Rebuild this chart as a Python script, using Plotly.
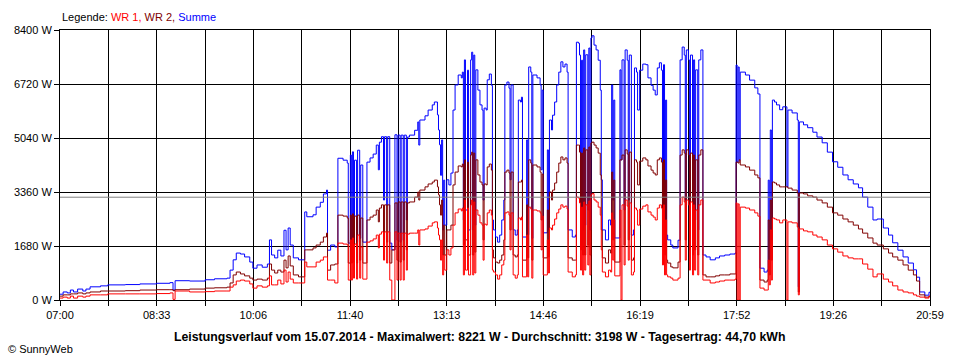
import plotly.graph_objects as go
import pandas as pd

# ---------------- data (15.07.2014) ----------------
zeit = [
    # 07
    "07:00", "07:03", "07:07", "07:10", "07:13", "07:17", "07:22", "07:25", "07:29", "07:39", "07:46",
    # 08
    "08:03", "08:17", "08:33", "08:46", "08:49", "08:51",
    # 09
    "09:05", "09:20", "09:29", "09:41", "09:44", "09:47", "09:50", "09:54", "09:58",
    # 10
    "10:03", "10:06", "10:10", "10:15", "10:20", "10:22", "10:24", "10:27", "10:30", "10:33",
    "10:36", "10:38", "10:40", "10:42", "10:45", "10:50", "10:56", "10:58",
    # 11
    "11:04", "11:07", "11:11", "11:14", "11:17", "11:18", "11:21", "11:25", "11:28", "11:33",
    "11:37", "11:38", "11:40", "11:41", "11:42", "11:43", "11:44", "11:46", "11:47", "11:49",
    "11:50", "11:52", "11:56", "11:59",
    # 12
    "12:02", "12:05", "12:07", "12:08", "12:10", "12:12", "12:13", "12:15", "12:16", "12:18",
    "12:20", "12:23", "12:25", "12:26", "12:28", "12:29", "12:31", "12:32", "12:34", "12:35",
    "12:37", "12:42", "12:45", "12:46", "12:47", "12:52", "12:55", "12:59",
    # 13
    "13:01", "13:04", "13:05", "13:06", "13:07", "13:08", "13:09", "13:10", "13:11", "13:13",
    "13:15", "13:17", "13:19", "13:21", "13:24", "13:27", "13:28", "13:29", "13:30", "13:31",
    "13:33", "13:34", "13:36", "13:37", "13:38", "13:39", "13:40", "13:41", "13:43", "13:45",
    "13:47", "13:48", "13:49", "13:51", "13:52", "13:54", "13:56", "13:57", "13:58",
    # 14
    "14:00", "14:02", "14:04", "14:06", "14:08", "14:09", "14:11", "14:13", "14:14", "14:15",
    "14:17", "14:19", "14:21", "14:22", "14:24", "14:25", "14:26", "14:30", "14:31", "14:32",
    "14:34", "14:35", "14:36", "14:40", "14:43", "14:44", "14:45", "14:46", "14:50", "14:51",
    "14:52", "14:54", "14:55", "14:57", "14:59",
    # 15
    "15:01", "15:03", "15:05", "15:07", "15:09", "15:10", "15:14", "15:17", "15:18", "15:20",
    "15:21", "15:22", "15:23", "15:24", "15:25", "15:26", "15:27", "15:29", "15:30", "15:31",
    "15:32", "15:33", "15:35", "15:37", "15:39", "15:41", "15:42", "15:43", "15:46", "15:49",
    "15:51", "15:52", "15:53", "15:54", "15:55",
    # 16
    "16:00", "16:01", "16:02", "16:04", "16:05", "16:07", "16:08", "16:09", "16:11", "16:13",
    "16:14", "16:16", "16:17", "16:19", "16:22", "16:25", "16:27", "16:30", "16:32", "16:34",
    "16:36", "16:38", "16:40", "16:41", "16:42", "16:43", "16:44", "16:45", "16:46", "16:49",
    "16:51", "16:56", "16:58",
    # 17
    "17:00", "17:02", "17:03", "17:04", "17:06", "17:07", "17:08", "17:10", "17:11", "17:12",
    "17:13", "17:15", "17:16", "17:18", "17:20", "17:23", "17:27", "17:32", "17:36", "17:41",
    "17:46", "17:51", "17:52", "17:53", "17:54", "17:55", "17:56",
    # 18
    "18:01", "18:05", "18:10", "18:13", "18:15", "18:19", "18:22", "18:23", "18:24", "18:25",
    "18:26", "18:27", "18:29", "18:31", "18:34", "18:37", "18:41", "18:42", "18:46", "18:51",
    "18:52", "18:53", "18:57",
    # 19
    "19:01", "19:06", "19:10", "19:15", "19:20", "19:25", "19:30", "19:35", "19:40", "19:45",
    "19:50", "19:54", "19:59",
    # 20
    "20:04", "20:08", "20:14", "20:19", "20:23", "20:28", "20:33", "20:38", "20:43", "20:46",
    "20:49", "20:54", "20:58", "20:59",
]

# WR 1 power in W
wr1 = [
    60, 90, 60, 120, 60, 120, 90, 120, 160, 160, 190,
    190, 190, 200, 220, 20, 280,
    250, 260, 280, 280, 400, 470, 590, 620, 590,
    500, 370, 440, 400, 440, 750, 470, 470, 620, 500,
    930, 560, 870, 650, 530, 530, 1180, 1030,
    1030, 1180, 1240, 1340, 1340, 620, 620, 530, 1770, 1740,
    1710, 620, 1870, 620, 1930, 680, 1740, 650, 2020, 680,
    1650, 650, 1800, 1840,
    1900, 2020, 1620, 2050, 2120, 1240, 2120, 1150, 2120, 620,
    0, 2120, 620, 2080, 620, 2080, 620, 2080, 930, 2050,
    2080, 2080, 2180, 1710, 2180, 2210, 2300, 2400,
    2430, 2240, 2020, 1870, 1240, 1870, 780, 1400, 930, 1560,
    1400, 1620, 2330, 2710, 2830, 2770, 2860, 780, 3110, 930,
    2860, 780, 2960, 3110, 780, 3050, 840, 2800, 2640, 2400,
    2330, 1240, 2360, 2330, 2710, 2800, 2640, 930, 870,
    780, 650, 780, 1090, 1240, 2710, 2740, 2640, 1560, 2710,
    780, 680, 780, 2550, 2490, 2580, 720, 2020, 720, 2890,
    2830, 680, 2800, 2770, 2710, 1560, 2610, 780, 1870, 840,
    2240, 2180, 2330, 2520, 2710,
    2830, 2960, 2890, 2920, 2830, 870, 720, 780, 3200, 3170,
    3020, 930, 2890, 780, 3050, 930, 2960, 1090, 3080, 780,
    3270, 3310, 3110, 3050, 2890, 2640, 1560, 870, 720, 930,
    870, 2710, 1240, 2490, 750,
    2800, 0, 2960, 1090, 3110, 2920, 1240, 3020, 780, 870,
    2860, 2800, 2330, 2830, 2920, 2960, 2740, 2640, 2580, 2490,
    2860, 2960, 2860, 1090, 2960, 780, 2490, 780, 720, 680,
    620, 680, 2960,
    3200, 3050, 1240, 3110, 2960, 930, 3050, 780, 2960, 930,
    2800, 780, 2960, 3110, 620, 620, 530, 560, 590, 620,
    620, 650, 3020, 0, 2990, 0, 2890,
    2860, 2800, 2710, 2610, 370, 310, 310, 1240, 470, 2180,
    620, 2550, 2520, 2490, 2400, 2490, 0, 2430, 2400, 2270,
    160, 2210, 2150,
    2120, 2020, 1960, 1870, 1710, 1590, 1490, 1370, 1310, 1280,
    1280, 1120, 960,
    720, 810, 650, 560, 440, 310, 250, 220, 160, 120,
    90, 60, 120, 120,
]

# WR 2 power in W
wr2 = [
    120, 160, 160, 190, 190, 220, 190, 220, 250, 280, 280,
    290, 310, 320, 320, 290, 320,
    340, 370, 380, 400, 530, 780, 870, 810, 750,
    680, 620, 650, 620, 680, 1120, 930, 840, 930, 870,
    1240, 1000, 1370, 1060, 780, 720, 1560, 1560,
    1620, 1710, 1800, 1960, 2080, 930, 1090, 1120, 2640, 2610,
    2550, 1150, 2640, 1150, 2680, 1180, 2610, 1150, 2640, 1240,
    2550, 1150, 2490, 2580,
    2640, 2800, 2430, 2860, 2960, 1870, 2960, 1800, 2960, 1150,
    1560, 3020, 1240, 3050, 1180, 3050, 1240, 3050, 1560, 3020,
    3050, 3200, 3360, 3110, 3420, 3520, 3610, 3670,
    3730, 3520, 3270, 2960, 2640, 3110, 1400, 2330, 1400, 2180,
    2180, 2330, 3580, 3980, 4170, 4140, 4230, 1710, 4360, 1870,
    4290, 1400, 4510, 4600, 1400, 4570, 1490, 4360, 3890, 3670,
    3580, 1870, 3610, 3580, 4140, 4230, 4040, 1560, 1310,
    1180, 1150, 1240, 1400, 1870, 3980, 4040, 3950, 2180, 3980,
    1400, 1340, 1400, 3670, 3670, 3730, 1240, 2960, 1310, 4360,
    4260, 1240, 4200, 4140, 3980, 2490, 3920, 1310, 2800, 1340,
    3360, 3110, 3420, 3640, 3980,
    4260, 4450, 4360, 4420, 4260, 1310, 1240, 1240, 4820, 4820,
    4600, 1560, 4570, 1400, 4730, 1400, 4670, 1710, 4760, 1400,
    4880, 4910, 4820, 4730, 4570, 3890, 2180, 1310, 1150, 1560,
    1460, 3980, 1870, 3730, 1180,
    4360, 4360, 4510, 1710, 4670, 4540, 1870, 4600, 1240, 1310,
    4360, 4290, 3580, 4320, 4420, 4360, 4170, 4040, 3950, 3890,
    4360, 4420, 4290, 1710, 4360, 1400, 3730, 1240, 1150, 1030,
    1000, 1180, 4510,
    4670, 4570, 1870, 4670, 4510, 1560, 4570, 1400, 4510, 1560,
    4360, 1400, 4510, 4670, 780, 720, 720, 750, 780, 780,
    810, 810, 4290, 4290, 4260, 4360, 4200,
    4140, 4040, 3890, 3800, 620, 560, 620, 2490, 780, 3110,
    1240, 3670, 3640, 3580, 3520, 3520, 3520, 3480, 3420, 3330,
    250, 3330, 3300,
    3240, 3200, 3110, 3020, 2890, 2710, 2640, 2520, 2430, 2330,
    2210, 2080, 1930,
    1770, 1710, 1590, 1460, 1340, 1240, 1090, 930, 780, 590,
    160, 90, 120, 130,
]

assert len(zeit) == len(wr1) == len(wr2), (len(zeit), len(wr1), len(wr2))

summe = [a + b for a, b in zip(wr1, wr2)]   # Summe = WR 1 + WR 2

datum = "15.07.2014"
maximalwert = 8221      # W
durchschnitt = 3198     # W
tagesertrag = "44,70"   # kWh

x_labels = ["07:00", "08:33", "10:06", "11:40", "13:13", "14:46", "16:19", "17:52", "19:26", "20:59"]
y_ticks = [0, 1680, 3360, 5040, 6720, 8400]

# ---------------- figure ----------------
t = pd.to_datetime(["2014-07-15 " + z for z in zeit])
t_start = pd.Timestamp("2014-07-15 07:00")
t_end = pd.Timestamp("2014-07-15 20:59")
n_int = 2 * (len(x_labels) - 1)
tickvals = [t_start + (t_end - t_start) * k / n_int for k in range(n_int + 1)]
ticktext = [x_labels[k // 2] if k % 2 == 0 else "" for k in range(n_int + 1)]

fig = go.Figure()
fig.add_trace(go.Scatter(x=t, y=summe, mode="lines", name="Summe",
                         line=dict(color="#0000FF", width=1, shape="hv")))
fig.add_trace(go.Scatter(x=t, y=wr2, mode="lines", name="WR 2",
                         line=dict(color="#800000", width=1, shape="hv")))
fig.add_trace(go.Scatter(x=t, y=wr1, mode="lines", name="WR 1",
                         line=dict(color="#FF0000", width=1, shape="hv")))

axis_common = dict(showgrid=True, gridcolor="#000000", gridwidth=1,
                   showline=True, linecolor="#000000", linewidth=1, mirror=True,
                   ticks="outside", ticklen=5, tickcolor="#000000", tickwidth=1,
                   zeroline=False, tickfont=dict(size=11, color="#000000"))

fig.update_layout(
    width=960, height=360,
    margin=dict(l=60, r=30, t=30, b=60),
    paper_bgcolor="white", plot_bgcolor="white",
    showlegend=False,
    font=dict(family="Liberation Sans, Arial, sans-serif", size=11, color="#000000"),
    xaxis=dict(type="date", range=[t_start, t_end], tickmode="array",
               tickvals=tickvals, ticktext=ticktext, **axis_common),
    yaxis=dict(range=[0, 8400], tickmode="array", tickvals=y_ticks,
               ticktext=[f"{v} W" for v in y_ticks], **axis_common),
)

# average line
fig.add_shape(type="line", xref="paper", x0=0, x1=1, yref="y",
              y0=durchschnitt, y1=durchschnitt, line=dict(color="#808080", width=1))

# legend text
fig.add_annotation(
    xref="paper", yref="paper", x=0, y=1.048, xanchor="left", yanchor="middle",
    showarrow=False, font=dict(size=11),
    text=("Legende: <span style='color:#FF0000'>WR 1,</span> "
          "<span style='color:#800000'>WR 2,</span> "
          "<span style='color:#0000FF'>Summe</span>"))

# bottom info line
fig.add_annotation(
    xref="paper", yref="paper", x=0.482, y=-0.136, xanchor="center", yanchor="middle",
    showarrow=False, font=dict(size=12.3),
    text=(f"<b>Leistungsverlauf vom {datum} - Maximalwert: {maximalwert} W - "
          f"Durchschnitt: {durchschnitt} W - Tagesertrag: {tagesertrag} kWh</b>"))

# copyright
fig.add_annotation(
    xref="paper", yref="paper", x=-0.062, y=-0.181, xanchor="left", yanchor="middle",
    showarrow=False, font=dict(size=11), text="© SunnyWeb")

fig.write_html("out.html", config={"displayModeBar": False},
               post_script="document.body.style.margin='0px';")
